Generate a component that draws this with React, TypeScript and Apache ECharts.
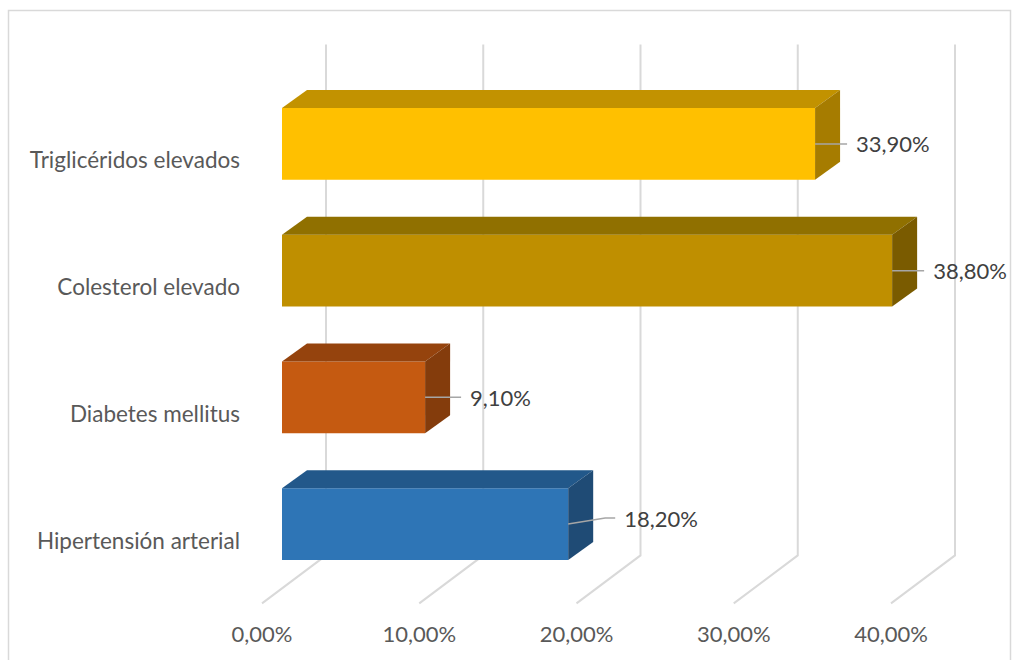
import React, { useEffect, useRef } from "react";
import * as echarts from "echarts";

const categories = ["Hipertensión arterial", "Diabetes mellitus", "Colesterol elevado", "Triglicéridos elevados"];
const values = [18.2, 9.1, 38.8, 33.9];
const ticks = [0, 10, 20, 30, 40];

const frontColors = ["#2E75B6", "#C55A11", "#BF8F00", "#FFC000"];
const topColors = ["#22588A", "#95430D", "#907000", "#C29200"];
const sideColors = ["#1F4B75", "#843C0C", "#7A5B00", "#A67C00"];
// leader line shape per bar: [rise, extra length]
const leaderLayout = [[-6, 15], [0, 4], [0, 0], [0, 0]];

const FONT = "Lato";
const fmt = (v: number) => v.toFixed(2).replace(".", ",") + "%";

export default function App() {
  const ref = useRef<HTMLDivElement>(null);
  useEffect(() => {
    const chart = echarts.init(ref.current!, undefined, { renderer: "svg" });
    const DX = 25, DY = -18;
    const option: any = {
      animation: false,
      backgroundColor: "#ffffff",
      graphic: [
        { type: "rect", shape: { x: 8.5, y: 10.5, width: 1002, height: 660 }, style: { fill: "none", stroke: "#d9d9d9", lineWidth: 1.5 }, z: -10 },
      ],
      grid: { left: 262, top: 96.6, width: 629, height: 506.8 },
      xAxis: {
        type: "value", min: 0, max: 40, interval: 10,
        axisLine: { show: false }, axisTick: { show: false }, splitLine: { show: false },
        axisLabel: { formatter: (v: number) => fmt(v), color: "#595959", fontSize: 22, fontFamily: FONT, margin: 19 },
      },
      yAxis: {
        type: "category", data: categories,
        axisLine: { show: false }, axisTick: { show: false }, splitLine: { show: false },
        axisLabel: { color: "#595959", fontSize: 22.5, fontFamily: FONT, margin: 22 },
      },
      series: [
        {
          type: "custom", z: 1, silent: true,
          data: ticks.map((t) => [t, 0]),
          encode: { x: 0, y: 1 },
          renderItem: (params: any, api: any) => {
            const X = api.coord([api.value(0), 0])[0];
            const cs = params.coordSys;
            const top = cs.y - 52;
            const bottom = cs.y + cs.height;
            const wallBottom = bottom - 48;
            return {
              type: "polyline",
              shape: { points: [[X + 64, top], [X + 64, wallBottom], [X, bottom]] },
              style: { stroke: "#d9d9d9", lineWidth: 2, fill: "none" },
            };
          },
        },
        {
          type: "custom", z: 2, silent: true,
          data: values.map((v, i) => [v, i]),
          encode: { x: 0, y: 1 },
          renderItem: (params: any, api: any) => {
            const i = params.dataIndex;
            const v = api.value(0);
            const end = api.coord([v, i]);
            const start = api.coord([0, i]);
            const band = api.size([0, 1])[1];
            const h = band * 0.567;
            const x0 = start[0] + 20, x1 = end[0] + 20;
            const yc = end[1] - 16;
            const y0 = yc - h / 2, y1 = yc + h / 2;
            const [rise, extra] = leaderLayout[i];
            const lx = x1 + 32 + extra;
            const pts = rise === 0 ? [[x1, yc], [lx, yc]] : [[x1, yc], [lx - 10, yc + rise], [lx, yc + rise]];
            return {
              type: "group",
              children: [
                { type: "rect", shape: { x: x0, y: y0, width: x1 - x0, height: h }, style: { fill: frontColors[i] } },
                { type: "polygon", shape: { points: [[x0, y0], [x1, y0], [x1 + DX, y0 + DY], [x0 + DX, y0 + DY]] }, style: { fill: topColors[i] } },
                { type: "polygon", shape: { points: [[x1, y0], [x1 + DX, y0 + DY], [x1 + DX, y1 + DY], [x1, y1]] }, style: { fill: sideColors[i] } },
                { type: "polyline", shape: { points: pts }, style: { stroke: "#a6a6a6", lineWidth: 1.5, fill: "none" } },
                {
                  type: "text",
                  style: { x: lx + 9, y: yc + rise, text: fmt(v), fill: "#404040", fontSize: 22, fontFamily: FONT, align: "left", verticalAlign: "middle" },
                },
              ],
            };
          },
        },
      ],
    };
    chart.setOption(option);
    return () => chart.dispose();
  }, []);
  return <div ref={ref} style={{ position: "absolute", left: 0, top: 0, width: 1013, height: 660 }} />;
}
